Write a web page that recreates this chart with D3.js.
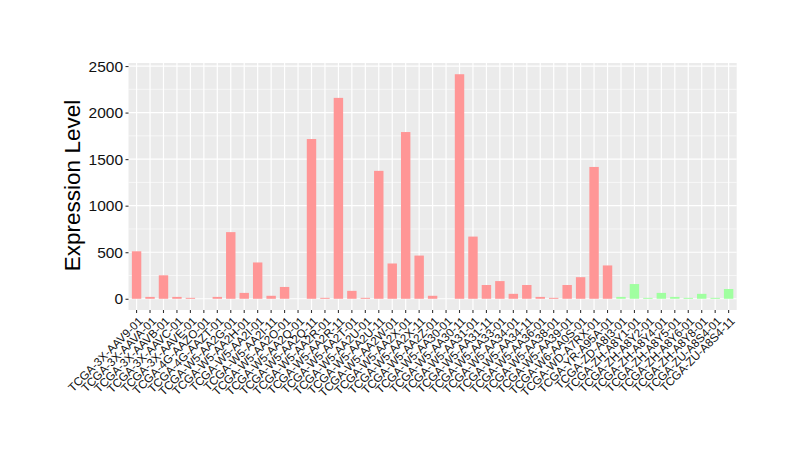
<!DOCTYPE html>
<html>
<head>
<meta charset="utf-8">
<script src="https://cdn.jsdelivr.net/npm/d3@7"></script>
<style>
  body { margin: 0; background: #fff; }
  svg text { font-family: "Liberation Sans", Arial, Helvetica, sans-serif; }
</style>
</head>
<body>
<svg id="chart" width="800" height="464"></svg>
<script>
const samples = [
  "TCGA-3X-AAV9-01","TCGA-3X-AAVA-01","TCGA-3X-AAVB-01","TCGA-3X-AAVC-01","TCGA-3X-AAVE-01",
  "TCGA-4G-AAZO-01","TCGA-4G-AAZT-01","TCGA-W5-AA2G-01","TCGA-W5-AA2H-01","TCGA-W5-AA2I-01",
  "TCGA-W5-AA2I-11","TCGA-W5-AA2O-01","TCGA-W5-AA2Q-01","TCGA-W5-AA2Q-11","TCGA-W5-AA2R-01",
  "TCGA-W5-AA2R-11","TCGA-W5-AA2T-01","TCGA-W5-AA2U-01","TCGA-W5-AA2U-11","TCGA-W5-AA2W-01",
  "TCGA-W5-AA2X-01","TCGA-W5-AA2X-11","TCGA-W5-AA2Z-01","TCGA-W5-AA30-01","TCGA-W5-AA30-11",
  "TCGA-W5-AA31-01","TCGA-W5-AA31-11","TCGA-W5-AA33-01","TCGA-W5-AA34-01","TCGA-W5-AA34-11",
  "TCGA-W5-AA36-01","TCGA-W5-AA38-01","TCGA-W5-AA39-01","TCGA-W6-AA0S-01","TCGA-WD-A7RX-01",
  "TCGA-YR-A95A-01","TCGA-ZD-A8I3-01","TCGA-ZH-A8Y1-01","TCGA-ZH-A8Y2-01","TCGA-ZH-A8Y4-01",
  "TCGA-ZH-A8Y5-01","TCGA-ZH-A8Y6-01","TCGA-ZH-A8Y8-01","TCGA-ZU-A8S4-01","TCGA-ZU-A8S4-11"
];
const expression = [
  510, 20, 252, 20, 10,
  0, 20, 716, 63, 390,
  32, 127, 0, 1716, 10,
  2158, 85, 10, 1374, 379,
  1791, 464, 32, 0, 2412,
  668, 148, 190, 53, 148,
  20, 10, 148, 232, 1416,
  358, 20, 158, 10, 63,
  20, 10, 53, 10, 105
];
const groups = [
  "A","A","A","A","A","A","A","A","A","A",
  "A","A","A","A","A","A","A","A","A","A",
  "A","A","A","A","A","A","A","A","A","A",
  "A","A","A","A","A","A","B","B","B","B",
  "B","B","B","B","B"
];
const groupNames = ["A", "B"];
const groupColors = ["#FF9696", "#A0FFA0"];
const yTicks = [0, 500, 1000, 1500, 2000, 2500];
const yMinorTicks = [250, 750, 1250, 1750, 2250];
const yTitle = "Expression Level";

const data = samples.map((s, i) => ({ s, v: expression[i], g: groups[i] }));

const svg = d3.select("#chart");
const P = { left: 128.5, right: 736.7, top: 63, bottom: 310 };

const x = d3.scaleBand().domain(samples).range([P.left, P.right])
  .paddingInner(0.3).paddingOuter(0.25);
const maxV = d3.max(expression);
const y = d3.scaleLinear().domain([-0.05 * maxV, 1.05 * maxV]).range([P.bottom, P.top]);
const color = d3.scaleOrdinal().domain(groupNames).range(groupColors);

// panel background
svg.append("rect").attr("x", P.left).attr("y", P.top)
  .attr("width", P.right - P.left).attr("height", P.bottom - P.top)
  .attr("fill", "#EBEBEB");

const grid = svg.append("g");
grid.selectAll(".ymin").data(yMinorTicks).join("line")
  .attr("x1", P.left).attr("x2", P.right)
  .attr("y1", d => y(d)).attr("y2", d => y(d))
  .attr("stroke", "#fff").attr("stroke-width", 0.6);
grid.selectAll(".ymaj").data(yTicks).join("line")
  .attr("x1", P.left).attr("x2", P.right)
  .attr("y1", d => y(d)).attr("y2", d => y(d))
  .attr("stroke", "#fff").attr("stroke-width", 1.2);
grid.selectAll(".xmaj").data(samples).join("line")
  .attr("x1", d => x(d) + x.bandwidth() / 2).attr("x2", d => x(d) + x.bandwidth() / 2)
  .attr("y1", P.top).attr("y2", P.bottom)
  .attr("stroke", "#fff").attr("stroke-width", 1.2);

// bars
svg.append("g").selectAll("rect").data(data).join("rect")
  .attr("x", d => x(d.s)).attr("width", x.bandwidth())
  .attr("y", d => y(Math.max(d.v, 0))).attr("height", d => Math.abs(y(d.v) - y(0)))
  .attr("fill", d => color(d.g));

// y axis
const yAxis = d3.axisLeft(y).tickValues(yTicks).tickSize(3).tickPadding(2.5).tickFormat(d3.format("d"));
const ya = svg.append("g").attr("transform", `translate(${P.left},0)`).call(yAxis);
ya.select(".domain").remove();
ya.selectAll(".tick line").attr("stroke", "#333").attr("stroke-width", 1.1);
ya.selectAll(".tick text").attr("fill", "#111").style("font-size", "15.5px")
  .style("font-family", "'Liberation Sans', Arial, sans-serif");

// x axis
const xAxis = d3.axisBottom(x).tickSize(3).tickPadding(2);
const xa = svg.append("g").attr("transform", `translate(0,${P.bottom})`).call(xAxis);
xa.select(".domain").remove();
xa.selectAll(".tick line").attr("stroke", "#333").attr("stroke-width", 1.1);
xa.selectAll(".tick text")
  .attr("fill", "#111")
  .style("font-size", "11.6px")
  .style("font-family", "'Liberation Sans', Arial, sans-serif")
  .attr("text-anchor", "end")
  .attr("y", 0).attr("dy", "0.72em")
  .attr("transform", "translate(1,6) rotate(-45)");

// y title
svg.append("text")
  .attr("transform", `translate(80,${(P.top + P.bottom) / 2 - 1}) rotate(-90)`)
  .attr("text-anchor", "middle")
  .attr("fill", "#000")
  .style("font-size", "22.5px")
  .text(yTitle);
</script>
</body>
</html>
